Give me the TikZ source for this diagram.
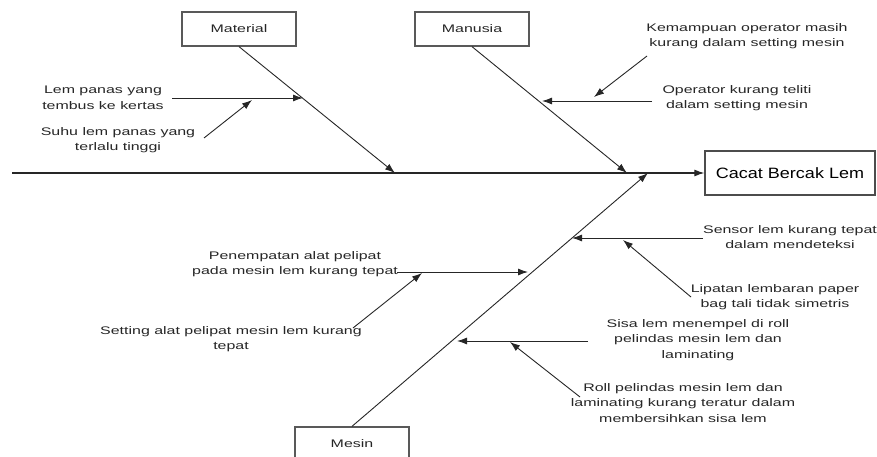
\documentclass[tikz,border=0pt]{standalone}
\usepackage{fontspec}
\setmainfont{Liberation Sans}
\newfontfamily\labfont[FakeStretch=1.45]{Liberation Sans}
\newfontfamily\efffont[FakeStretch=1.2]{Liberation Sans}
\usetikzlibrary{arrows.meta,calc}
\begin{document}
\begin{tikzpicture}[x=1pt,y=-1pt,
  arr/.style={-{Latex[length=10pt,width=7pt]}, line width=0.9pt, draw=black!85},
  catbox/.style={draw=black!65, line width=1.3pt, minimum width=114pt, minimum height=34pt, inner sep=0pt, font=\labfont\fontsize{11}{15.5}\selectfont, text=black!85},
  lab/.style={align=center, inner sep=1pt, font=\labfont\fontsize{11}{15.5}\selectfont, text=black!85},
  effbox/.style={draw=black!70, line width=1.3pt, minimum width=170pt, minimum height=44pt, inner sep=0pt, font=\efffont\fontsize{15}{18}\selectfont}
]
\useasboundingbox (0,0) rectangle (877,457);
\clip (0,0) rectangle (877,457);

% category boxes and effect
\node[catbox] (material) at (239,29) {Material};
\node[catbox] (manusia) at (472,29) {Manusia};
\node[catbox] (mesin) at (352,444) {Mesin};
\node[effbox] (effect) at (790,173) {Cacat Bercak Lem};

% spine
\coordinate (tail) at (12,173);
\coordinate (jmat) at (395,173);
\coordinate (jman) at (627,173);
\coordinate (jmes) at (648,173);
\draw[arr, line width=1.1pt] (tail) -- (effect.west);

% main branches
\draw[arr] (material.south) -- (jmat);
\draw[arr] (manusia.south) -- (jman);
\draw[arr] (mesin.north) -- (jmes);

% Material causes
\coordinate (bm1) at (303,98);
\coordinate (bm2) at (252,100);
\node[lab] (m1) at (103,98) {Lem panas yang\\tembus ke kertas};
\node[lab] (m2) at (118,140) {Suhu lem panas yang\\terlalu tinggi};
\coordinate (m1s) at (172,98);
\coordinate (m2s) at (204,138);
\draw[arr] (m1s) -- (bm1);
\draw[arr] (m2s) -- (bm2);

% Manusia causes
\coordinate (bh1) at (542,101);
\coordinate (bh2) at (594,97);
\node[lab] (h1) at (737,98) {Operator kurang teliti\\dalam setting mesin};
\coordinate (h1s) at (652,101);
\node[lab] (h2) at (747,36) {Kemampuan operator masih\\kurang dalam setting mesin};
\coordinate (h2s) at (647,56);
\draw[arr] (h1s) -- (bh1);
\draw[arr] (h2s) -- (bh2);

% Mesin causes
\coordinate (bs1) at (572,238);
\coordinate (bs2) at (623,240);
\node[lab] (s1) at (790,237) {Sensor lem kurang tepat\\dalam mendeteksi};
\coordinate (s1s) at (703,238);
\node[lab] (s2) at (775,297) {Lipatan lembaran paper\\bag tali tidak simetris};
\coordinate (s2s) at (691,297);
\draw[arr] (s1s) -- (bs1);
\draw[arr] (s2s) -- (bs2);

\coordinate (bp1) at (528,272);
\coordinate (bp2) at (422,273);
\node[lab] (p1) at (295,264) {Penempatan alat pelipat\\pada mesin lem kurang tepat};
\coordinate (p1s) at (397,272);
\node[lab] (p2) at (231,339) {Setting alat pelipat mesin lem kurang\\tepat};
\coordinate (p2s) at (353,328);
\draw[arr] (p1s) -- (bp1);
\draw[arr] (p2s) -- (bp2);

\coordinate (br1) at (457,341);
\coordinate (br2) at (510,342);
\node[lab] (r1) at (698,340) {Sisa lem menempel di roll\\pelindas mesin lem dan\\laminating};
\coordinate (r1s) at (588,341);
\node[lab] (r2) at (683,403) {Roll pelindas mesin lem dan\\laminating kurang teratur dalam\\membersihkan sisa lem};
\coordinate (r2s) at (580,397);
\draw[arr] (r1s) -- (br1);
\draw[arr] (r2s) -- (br2);
\end{tikzpicture}
\end{document}
